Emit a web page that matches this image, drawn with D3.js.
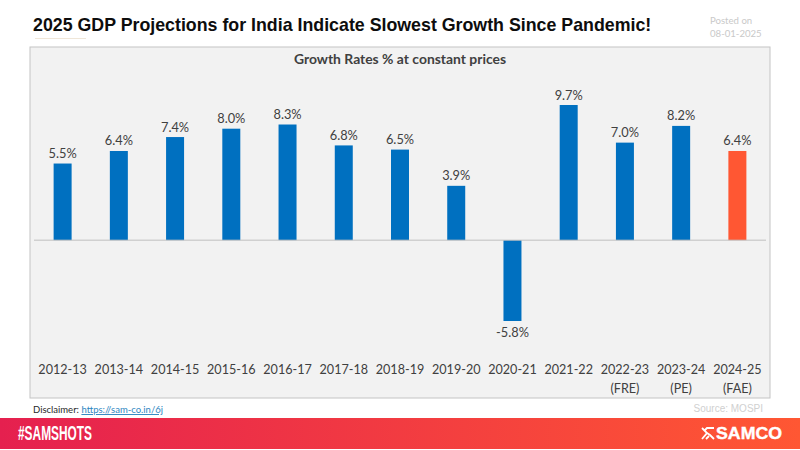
<!DOCTYPE html>
<html>
<head>
<meta charset="utf-8">
<script src="https://cdn.jsdelivr.net/npm/d3@7"></script>
<style>
  html, body { margin: 0; padding: 0; background: #fff; }
  svg { display: block; }
  text { font-family: Lato, sans-serif; }
</style>
</head>
<body>
<svg id="chart" width="800" height="450"></svg>
<script>
// data
const years = ['2012-13', '2013-14', '2014-15', '2015-16', '2016-17', '2017-18', '2018-19',
  '2019-20', '2020-21', '2021-22', '2022-23', '2023-24', '2024-25'];
const notes = ['', '', '', '', '', '', '', '', '', '', '(FRE)', '(PE)', '(FAE)'];
const growth = [5.5, 6.4, 7.4, 8.0, 8.3, 6.8, 6.5, 3.9, -5.8, 9.7, 7.0, 8.2, 6.4];
const highlightYear = '2024-25';

const svg = d3.select('#chart');

// panel behind the chart
svg.append('rect').attr('x', 30).attr('y', 47).attr('width', 740).attr('height', 351)
  .attr('fill', '#f2f2f2').attr('stroke', '#c4c4c4').attr('stroke-width', 1);

// title block
svg.append('text').attr('x', 33).attr('y', 30.5)
  .style('font-family', '"Liberation Sans", Arial, sans-serif')
  .style('font-weight', 700).style('font-size', '17.8px').attr('fill', '#0d0d0d')
  .text('2025 GDP Projections for India Indicate Slowest Growth Since Pandemic!');
svg.append('line').attr('x1', 35).attr('x2', 86).attr('y1', 38.5).attr('y2', 38.5)
  .attr('stroke', '#efe6d8').attr('stroke-width', 1);

svg.append('text').attr('x', 710).attr('y', 24)
  .style('font-size', '9.6px').attr('fill', '#c9c9c9').text('Posted on');
svg.append('text').attr('x', 710).attr('y', 37)
  .style('font-size', '9.6px').attr('fill', '#c9c9c9').text('08-01-2025');

svg.append('text').attr('x', 400).attr('y', 64).attr('text-anchor', 'middle')
  .style('font-size', '13.9px').style('font-weight', 700).attr('fill', '#404040')
  .text('Growth Rates % at constant prices');

// scales
const x = d3.scaleBand().domain(years).range([34.5, 765.5]).paddingInner(0.68).paddingOuter(0.34);
const y = d3.scaleLinear().domain([-5.8, 9.7]).range([321, 105]);

// bars
svg.append('g').selectAll('rect').data(growth).join('rect')
  .attr('x', (d, i) => x(years[i]))
  .attr('width', x.bandwidth())
  .attr('y', d => Math.min(y(d), y(0)))
  .attr('height', d => Math.abs(y(d) - y(0)))
  .attr('fill', (d, i) => years[i] === highlightYear ? '#ff5733' : '#0070c0');

// zero line
svg.append('line').attr('x1', 34).attr('x2', 766).attr('y1', y(0)).attr('y2', y(0))
  .attr('stroke', '#bfbfbf').attr('stroke-width', 1);

// value labels
svg.append('g').selectAll('text').data(growth).join('text')
  .attr('x', (d, i) => x(years[i]) + x.bandwidth() / 2)
  .attr('y', d => d < 0 ? y(d) + 16 : y(d) - 5.5)
  .attr('text-anchor', 'middle')
  .style('font-size', '12.8px').attr('fill', '#404040')
  .text(d => d.toFixed(1) + '%');

// category labels, second row holds the estimate notes
const axis = d3.axisBottom(x).tickSize(0).tickPadding(0);
const axisG = svg.append('g').attr('transform', 'translate(0,365)').call(axis);
axisG.select('.domain').remove();
axisG.selectAll('text')
  .style('font-family', 'Lato, sans-serif').style('font-size', '12.6px').attr('fill', '#404040');
svg.append('g').selectAll('text').data(notes).join('text')
  .attr('x', (d, i) => x(years[i]) + x.bandwidth() / 2)
  .attr('y', 393).attr('text-anchor', 'middle')
  .style('font-size', '12.6px').attr('fill', '#404040')
  .text(d => d);

// footnotes
const disclaimer = svg.append('text').attr('x', 33).attr('y', 413)
  .style('font-size', '9.5px').attr('fill', '#262626');
disclaimer.append('tspan').text('Disclaimer: ');
disclaimer.append('tspan').attr('fill', '#2e86c1').attr('text-decoration', 'underline')
  .text('https://sam-co.in/6j');
svg.append('text').attr('x', 763).attr('y', 412).attr('text-anchor', 'end')
  .style('font-family', '"Liberation Sans", Arial, sans-serif')
  .style('font-size', '10px').attr('fill', '#d0d0d0').text('Source: MOSPI');

// footer band
const grad = svg.append('defs').append('linearGradient').attr('id', 'band');
grad.append('stop').attr('offset', '0%').attr('stop-color', '#e5204f');
grad.append('stop').attr('offset', '100%').attr('stop-color', '#ff5733');
svg.append('rect').attr('x', 0).attr('y', 418).attr('width', 800).attr('height', 31)
  .attr('fill', 'url(#band)');
svg.append('text').attr('x', 18).attr('y', 440)
  .style('font-family', '"Liberation Sans Narrow", "Liberation Sans", sans-serif')
  .style('font-weight', 700).style('font-size', '19.5px').attr('fill', '#fff')
  .attr('textLength', 74).attr('lengthAdjust', 'spacingAndGlyphs')
  .text('#SAMSHOTS');

// logo mark
svg.append('path')
  .attr('d', 'M702 428l5 5l-5 6M714 428h-7l-2 2M707 433l3 2l4 4M706 439l3-3')
  .attr('fill', 'none').attr('stroke', '#fff').attr('stroke-width', 1.8);
svg.append('text').attr('x', 716).attr('y', 439)
  .style('font-family', '"Liberation Sans", Arial, sans-serif')
  .style('font-weight', 700).style('font-size', '16.5px').attr('fill', '#fff')
  .attr('stroke', '#fff').attr('stroke-width', 0.4)
  .attr('textLength', 66).attr('lengthAdjust', 'spacingAndGlyphs')
  .text('SAMCO');
</script>
</body>
</html>
